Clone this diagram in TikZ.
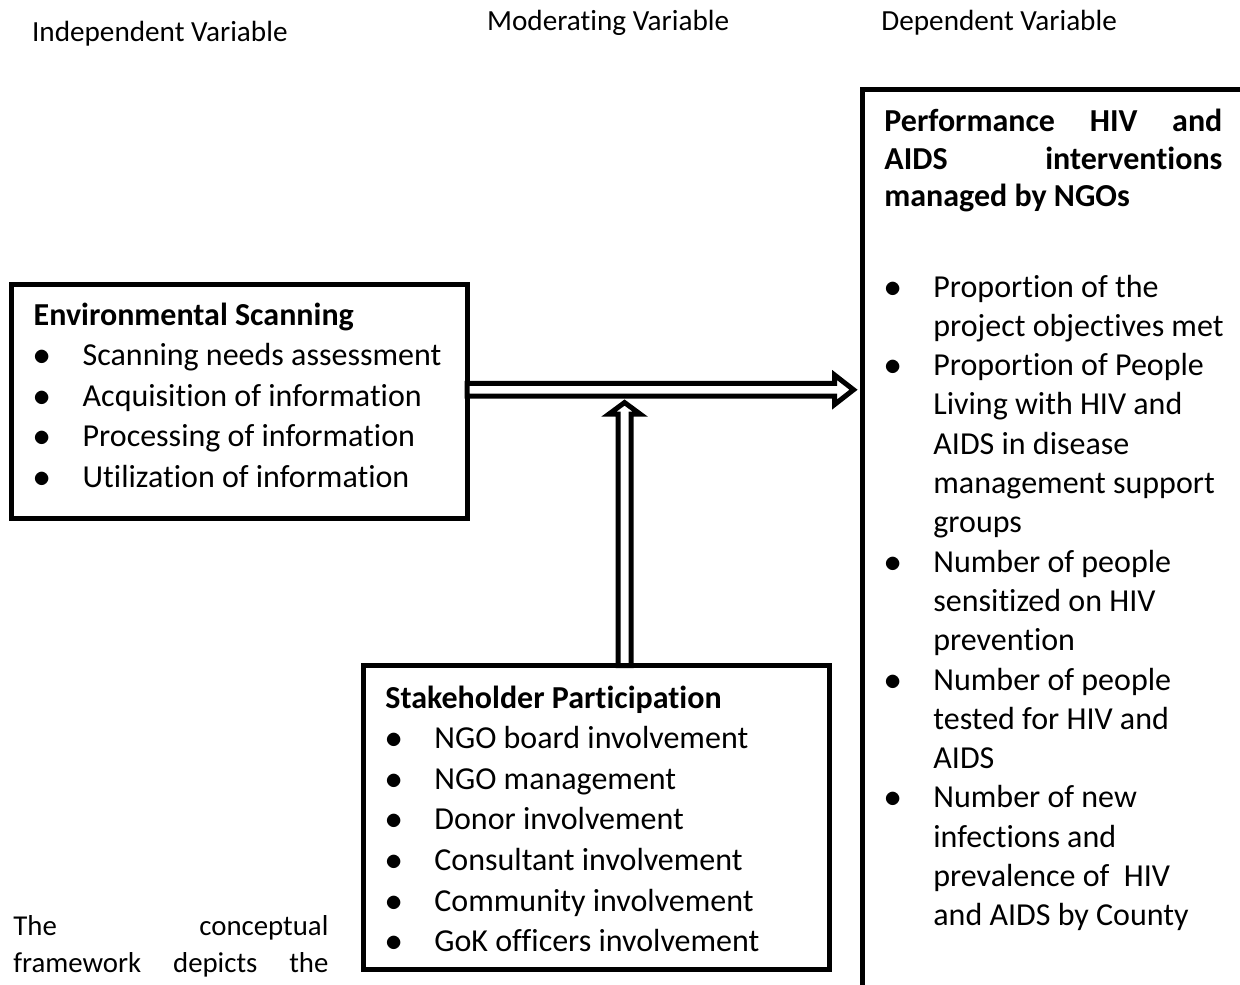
\documentclass[tikz,border=0pt]{standalone}
\usepackage{fontspec}
\setmainfont{Carlito}[Ligatures=NoCommon]
\usetikzlibrary{calc}

\newcommand{\itemfont}[1]{\fontsize{16}{#1}\selectfont}
\newcommand{\itm}{$\bullet$}

\tikzset{
  framebox/.style={draw, line width=2.5pt, inner sep=0pt, outer sep=0pt},
  hollow/.style={draw, line width=2.5pt, fill=white, line join=miter},
  varlabel/.style={anchor=base west, inner sep=0pt, font=\fontsize{14.6}{17}\selectfont},
  listnode/.style={anchor=base west, inner sep=0pt},
}

\begin{document}
\begin{tikzpicture}[x=0.5pt,y=-0.5pt]
        \useasboundingbox (0,0) rectangle (1240,984);
        \clip (0,0) rectangle (1240,984);
        % column headings
        \node[varlabel] (indep) at (31.7,41.7) {Independent Variable};
        \node[varlabel] (moder) at (486.7,30.7) {Moderating Variable};
        \node[varlabel] (dep) at (881,31) {Dependent Variable};
        % boxes
        \node[framebox, minimum width=228pt, minimum height=116.75pt] (env) at (239,401.25) {};
        \node[framebox, minimum width=232.85pt, minimum height=152.1pt] (stake) at (596.15,817.6) {};
        \node[framebox, minimum width=269pt, minimum height=555.25pt] (perf) at (1131,644.75) {};
        % box contents
        \node[listnode, font=\itemfont{20.25pt}] (envtext) at (33.3,325) {%
          \begin{tabular}[t]{@{}p{24.5pt}@{}l@{}}
          \multicolumn{2}{@{}l@{}}{\textbf{Environmental Scanning}}\\
          \itm & Scanning needs assessment\\
          \itm & Acquisition of information\\
          \itm & Processing of information\\
          \itm & Utilization of information
          \end{tabular}};
        \node[listnode, font=\itemfont{20.33pt}] (staketext) at (385,708) {%
          \begin{tabular}[t]{@{}p{24.5pt}@{}l@{}}
          \multicolumn{2}{@{}l@{}}{\textbf{Stakeholder Participation}}\\
          \itm & NGO board involvement\\
          \itm & NGO management\\
          \itm & Donor involvement\\
          \itm & Consultant involvement\\
          \itm & Community involvement\\
          \itm & GoK officers involvement
          \end{tabular}};
        \node[listnode, font=\itemfont{18.75pt}\bfseries] (perftitle) at (884,131.7) {%
          \begin{tabular}[t]{@{}l@{}}
          \makebox[169pt][s]{Performance HIV and}\\
          \makebox[169pt][s]{AIDS interventions}\\
          managed by NGOs
          \end{tabular}};
        \node[listnode, font=\itemfont{19.65pt}] (perftext) at (884,297) {%
          \begin{tabular}[t]{@{}p{24.5pt}@{}l@{}}
          \itm & Proportion of the\\
               & project objectives met\\
          \itm & Proportion of People\\
               & Living with HIV and\\
               & AIDS in disease\\
               & management support\\
               & groups\\
          \itm & Number of people\\
               & sensitized on HIV\\
               & prevention\\
          \itm & Number of people\\
               & tested for HIV and\\
               & AIDS\\
          \itm & Number of new\\
               & infections and\\
               & prevalence of~ HIV\\
               & and AIDS by County
          \end{tabular}};
        % text running below
        \node[listnode, font=\fontsize{14.4}{18.85pt}\selectfont] (para) at (13,935) {%
          \begin{tabular}[t]{@{}l@{}}
          \makebox[157.5pt][s]{The conceptual}\\
          \makebox[157.5pt][s]{framework depicts the}
          \end{tabular}};
        % arrows
        \coordinate (hbeg) at ($(env.east)+(0,-11.5)$);
        \coordinate (htip) at ($(perf.west |- hbeg)+(-8.5,0)$);
        \draw[hollow] ($(hbeg)+(0,-6.4)$) -- ($(htip)+(-19,-6.4)$) -- ($(htip)+(-19,-14.8)$)
          -- (htip) -- ($(htip)+(-19,14.8)$) -- ($(htip)+(-19,6.4)$) -- ($(hbeg)+(0,6.4)$) -- cycle;
        \coordinate (vbeg) at ($(stake.north)+(28.4,0)$);
        \coordinate (vtip) at ($(hbeg -| vbeg)+(0,12.8)$);
        \draw[hollow] ($(vbeg)+(-6.5,0)$) -- ($(vtip)+(-6.5,11.6)$) -- ($(vtip)+(-15.7,11.6)$)
          -- (vtip) -- ($(vtip)+(15.7,11.6)$) -- ($(vtip)+(6.5,11.6)$) -- ($(vbeg)+(6.5,0)$) -- cycle;
\end{tikzpicture}
\end{document}
